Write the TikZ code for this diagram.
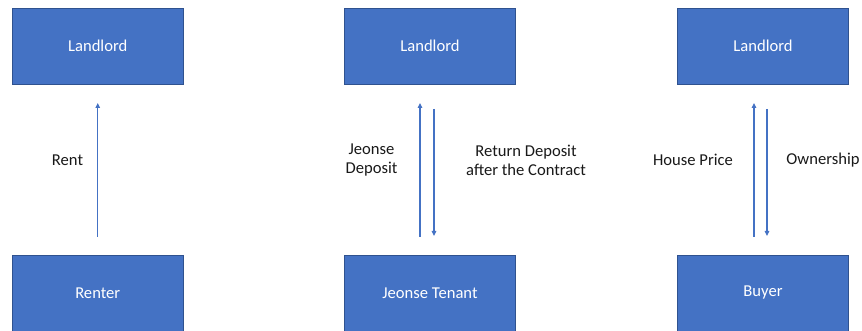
\documentclass[tikz,border=0pt]{standalone}
\usepackage{fontspec}
\setmainfont{Carlito}
\usetikzlibrary{arrows.meta}
\definecolor{boxblue}{HTML}{4472C4}
\definecolor{boxedge}{HTML}{2F528F}
\begin{document}
\begin{tikzpicture}[x=1pt,y=-1pt,
  party/.style={draw=boxedge,line width=0.8pt,fill=boxblue,text=white,minimum width=171pt,minimum height=76pt,inner sep=0pt,font=\fontsize{16.6}{19}\selectfont},
  flow/.style={draw=boxblue,line width=1.1pt,-{Triangle[length=5pt,width=4.5pt]}},
  lbl/.style={text=black!90,align=center,inner sep=0pt,font=\fontsize{16.6}{19}\selectfont}]
\useasboundingbox (0,0) rectangle (862,331);
% boxes
\node[party] (L1) at (97.75,46) {Landlord};
\node[party] (L2) at (430,46) {Landlord};
\node[party] (L3) at (763,46) {Landlord};
\node[party] (R1) at (97.75,293) {Renter};
\node[party] (R2) at (430,293) {Jeonse Tenant};
\node[party] (R3) at (763,293) {Buyer};
% arrow end points
\coordinate (a1s) at (97.75,237); \coordinate (a1e) at (97.75,103);
\coordinate (a2s) at (420,237); \coordinate (a2e) at (420,103);
\coordinate (b2s) at (434,109); \coordinate (b2e) at (434,236);
\coordinate (a3s) at (754,237); \coordinate (a3e) at (754,103);
\coordinate (b3s) at (767,109); \coordinate (b3e) at (767,236);
\draw[flow] (a1s) -- (a1e);
\draw[flow] (a2s) -- (a2e);
\draw[flow] (b2s) -- (b2e);
\draw[flow] (a3s) -- (a3e);
\draw[flow] (b3s) -- (b3e);
% labels
\node[lbl] (t1) at (67.5,160) {Rent};
\node[lbl] (t2) at (371.5,160) {Jeonse\\Deposit};
\node[lbl] (t3) at (526,160) {Return Deposit\\after the Contract};
\node[lbl] (t4) at (693,160) {House Price};
\node[lbl] (t5) at (823,160) {Ownership};
\end{tikzpicture}
\end{document}
